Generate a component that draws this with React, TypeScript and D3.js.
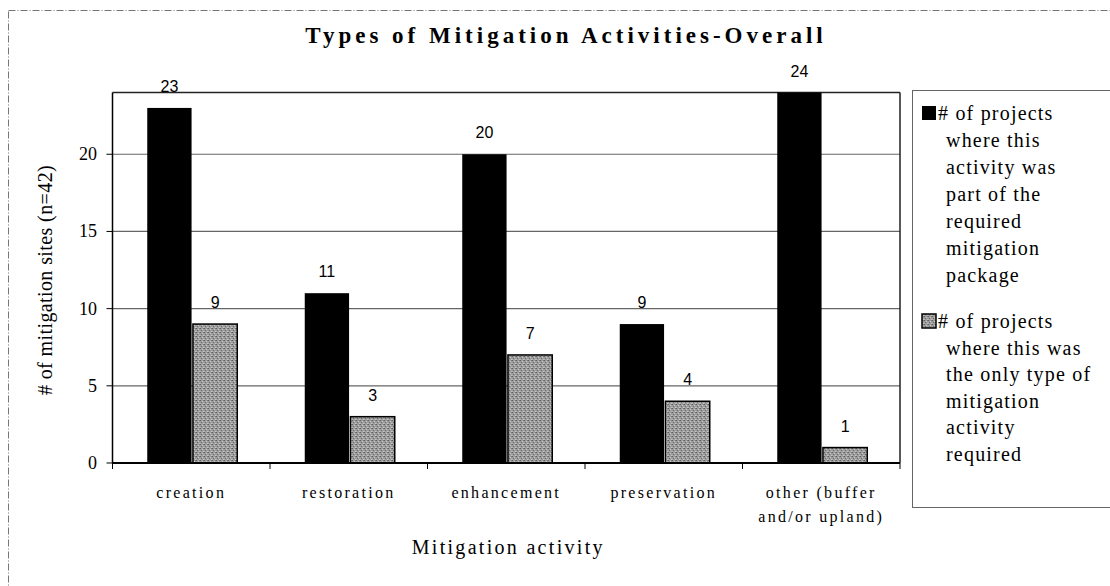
import React from 'react';
import * as d3 from 'd3';

// chart values
const categories = ['creation', 'restoration', 'enhancement', 'preservation', 'other'];
const categoryLabels = [['creation'], ['restoration'], ['enhancement'], ['preservation'], ['other (buffer', 'and/or upland)']];
const seriesKeys = ['part', 'only'];
const partOfPackage = [23, 11, 20, 9, 24];
const onlyType = [9, 3, 7, 4, 1];
const yTicks = [0, 5, 10, 15, 20];
const legendPart = ['# of projects', 'where this', 'activity was', 'part of the', 'required', 'mitigation', 'package'];
const legendOnly = ['# of projects', 'where this was', 'the only type of', 'mitigation', 'activity', 'required'];

const serif = '"Liberation Serif", "Times New Roman", serif';
const sans = '"Liberation Sans", Arial, sans-serif';

const W = 1110, H = 586;
const plot = { left: 112.5, right: 900, top: 92.5, bottom: 463 };

// halftone-ish grey used by the scan
const Speckle = () => (
    <pattern id="speckle" width="4" height="4" patternUnits="userSpaceOnUse">
        <rect width="4" height="4" fill="#9c9c9c" />
        <rect x="0" y="0" width="1" height="1" fill="#5e5e5e" />
        <rect x="2" y="1" width="1" height="1" fill="#c8c8c8" />
        <rect x="1" y="2" width="1" height="1" fill="#6a6a6a" />
        <rect x="3" y="3" width="1" height="1" fill="#c4c4c4" />
        <rect x="3" y="0" width="1" height="1" fill="#7a7a7a" />
        <rect x="0" y="3" width="1" height="1" fill="#b4b4b4" />
    </pattern>
);

const App = () => {
    const x0 = d3.scaleBand<string>().domain(categories).range([plot.left, plot.right]).padding(0);
    const x1 = d3.scaleBand<string>().domain(seriesKeys).range([-44, 46]).paddingInner(0.03);
    const y = d3.scaleLinear().domain([0, 24]).range([plot.bottom, plot.top]);
    const step = x0.step();

    const series = [
        { key: 'part', values: partOfPackage, fill: '#000', stroke: '#000' },
        { key: 'only', values: onlyType, fill: 'url(#speckle)', stroke: '#000' }
    ];

    const boundaries = d3.range(categories.length + 1).map(i => plot.left + i * step);

    return (
        <svg width={W} height={H} style={{ position: 'absolute', left: 0, top: 0, background: '#fff' }}>
            <defs><Speckle /></defs>
            <rect x={0} y={0} width={W} height={H} fill="#fff" />

            {/* outer chart area border, dashed in the scan */}
            <rect x={8.5} y={10.5} width={1200} height={700} fill="none" stroke="#777" strokeWidth={1} strokeDasharray="7 2 1 2" />

            <text x={566} y={43} textAnchor="middle" fontFamily={serif} fontWeight="bold" fontSize={23} letterSpacing={4}>
                Types of Mitigation Activities-Overall
            </text>

            {/* gridlines */}
            {yTicks.filter(t => t > 0).map(t => (
                <line key={'g' + t} x1={plot.left} x2={plot.right} y1={y(t)} y2={y(t)} stroke="#666" strokeWidth={1.2} />
            ))}

            {/* plot frame */}
            <line x1={plot.left} x2={plot.right} y1={plot.top} y2={plot.top} stroke="#222" strokeWidth={1.5} />
            <line x1={plot.right} x2={plot.right} y1={plot.top} y2={plot.bottom} stroke="#222" strokeWidth={1.5} />

            {/* bars */}
            {series.map(s => (
                <g key={s.key}>
                    {categories.map((c, i) => {
                        const cx = (x0(c) as number) + step / 2;
                        const bx = cx + (x1(s.key) as number);
                        const v = s.values[i];
                        return (
                            <g key={c}>
                                <rect x={bx} y={y(v)} width={x1.bandwidth()} height={plot.bottom - y(v)}
                                      fill={s.fill} stroke={s.stroke} strokeWidth={s.key === 'only' ? 1.5 : 0} />
                                <text x={bx + x1.bandwidth() / 2} y={y(v) - 16} textAnchor="middle"
                                      fontFamily={sans} fontSize={16}>{v}</text>
                            </g>
                        );
                    })}
                </g>
            ))}

            {/* axes */}
            <line x1={plot.left} x2={plot.left} y1={plot.top} y2={plot.bottom} stroke="#000" strokeWidth={1.5} />
            <line x1={plot.left} x2={plot.right} y1={plot.bottom} y2={plot.bottom} stroke="#000" strokeWidth={2} />
            {yTicks.map(t => (
                <g key={'t' + t}>
                    <line x1={plot.left - 6} x2={plot.left} y1={y(t)} y2={y(t)} stroke="#000" strokeWidth={1} />
                    <text x={97} y={y(t) + 6} textAnchor="end" fontFamily={serif} fontSize={18}>{t}</text>
                </g>
            ))}
            {boundaries.map((bx, i) => (
                <line key={'b' + i} x1={bx} x2={bx} y1={plot.bottom} y2={plot.bottom + 6} stroke="#000" strokeWidth={1} />
            ))}
            {categories.map((c, i) => (
                <text key={'l' + c} x={(x0(c) as number) + step / 2} y={498} textAnchor="middle"
                      fontFamily={serif} fontSize={16} letterSpacing={2.3}>
                    {categoryLabels[i].map((line, j) => (
                        <tspan key={j} x={(x0(c) as number) + step / 2} dy={j === 0 ? 0 : 24}>{line}</tspan>
                    ))}
                </text>
            ))}

            <text x={(plot.left + plot.right) / 2 + 2} y={554} textAnchor="middle" fontFamily={serif} fontSize={20} letterSpacing={2.3}>
                Mitigation activity
            </text>
            <text transform={`translate(52,280) rotate(-90)`} textAnchor="middle" fontFamily={serif} fontSize={20} letterSpacing={0.4}>
                # of mitigation sites (n=42)
            </text>

            {/* legend */}
            <rect x={912.5} y={90.5} width={300} height={417} fill="#fff" stroke="#666" strokeWidth={1} />
            <rect x={922} y={106} width={14} height={14} fill="#000" />
            {legendPart.map((t, i) => (
                <text key={'lp' + i} x={i === 0 ? 938 : 946} y={120 + i * 27} fontFamily={serif} fontSize={20} letterSpacing={1.2}>{t}</text>
            ))}
            <rect x={922} y={314} width={14} height={14} fill="url(#speckle)" stroke="#000" strokeWidth={1.5} />
            {legendOnly.map((t, i) => (
                <text key={'lo' + i} x={i === 0 ? 938 : 946} y={328 + i * 26.5} fontFamily={serif} fontSize={20} letterSpacing={1.2}>{t}</text>
            ))}
        </svg>
    );
};

export default App;
